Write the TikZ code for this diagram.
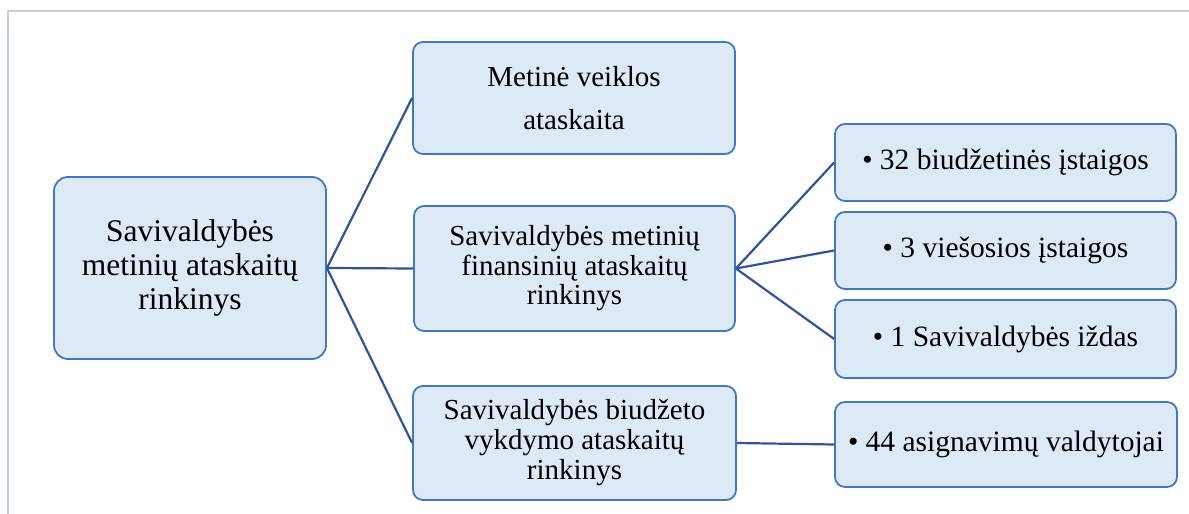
\documentclass[tikz,border=0pt]{standalone}
\usepackage{fontspec}
\setmainfont{Liberation Serif}
\usetikzlibrary{positioning}
\definecolor{boxfill}{RGB}{222,233,246}
\definecolor{boxline}{RGB}{65,121,190}
\definecolor{linkblue}{RGB}{47,85,151}
\definecolor{framegray}{RGB}{197,207,218}

\begin{document}
\begin{tikzpicture}[x=1pt,y=-1pt,
    box/.style={draw=boxline,fill=boxfill,line width=1.8pt,rounded corners=10pt,align=center,inner sep=0pt},
    link/.style={draw=linkblue,line width=2.2pt}]
    \useasboundingbox (0,0) rectangle (1189,514);
    \draw[framegray,line width=1.3pt] (8,520) -- (8,11) -- (1195,11);

    \node[box,rounded corners=14pt,minimum width=272pt,minimum height=182pt,font=\fontsize{31.5}{34}\selectfont] (root) at (190,268) {Savivaldybės\\metinių ataskaitų\\rinkinys};

    \node[box,minimum width=322pt,minimum height=112pt,font=\fontsize{29}{43}\selectfont] (veikla) at (574,98) {Metinė veiklos\\ataskaita};
    \node[box,minimum width=321pt,minimum height=125pt,font=\fontsize{29}{29.5}\selectfont] (fin) at (574.5,268.5) {Savivaldybės metinių\\finansinių ataskaitų\\rinkinys};
    \node[box,minimum width=323pt,minimum height=114pt,font=\fontsize{29}{30}\selectfont] (biud) at (574.5,443) {Savivaldybės biudžeto\\vykdymo ataskaitų\\rinkinys};

    \node[box,minimum width=341pt,minimum height=77pt,font=\fontsize{29.5}{30}\selectfont] (ist) at (1005.5,162.5) {• 32 biudžetinės įstaigos};
    \node[box,minimum width=341pt,minimum height=77pt,font=\fontsize{29.5}{30}\selectfont] (vie) at (1005.5,250.5) {• 3 viešosios įstaigos};
    \node[box,minimum width=341pt,minimum height=78pt,font=\fontsize{29.5}{30}\selectfont] (izd) at (1005.5,339) {• 1 Savivaldybės iždas};
    \node[box,minimum width=342pt,minimum height=85pt,font=\fontsize{29.5}{30}\selectfont] (asig) at (1006,444.5) {• 44 asignavimų valdytojai};

    \draw[link] (root.east) -- (veikla.west);
    \draw[link] (root.east) -- (fin.west);
    \draw[link] (root.east) -- (biud.west);
    \draw[link] (fin.east) -- (ist.west);
    \draw[link] (fin.east) -- (vie.west);
    \draw[link] (fin.east) -- (izd.west);
    \draw[link] (biud.east) -- (asig.west);
\end{tikzpicture}
\end{document}
